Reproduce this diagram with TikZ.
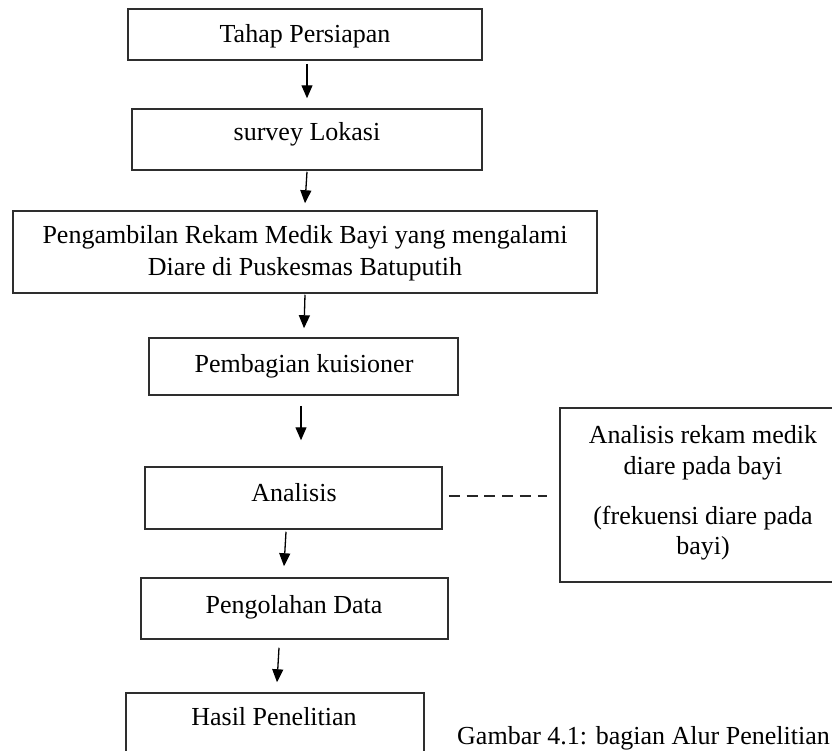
\documentclass[tikz,border=0pt]{standalone}
\usepackage{fontspec}
\setmainfont{Liberation Serif}
\usetikzlibrary{arrows.meta,calc}
\begin{document}
\begin{tikzpicture}[x=1pt,y=-1pt,
  box/.style={draw=black!82, line width=1.5pt, rectangle, inner sep=0pt},
  txt/.style={anchor=base, inner sep=0pt, font=\fontsize{26}{31}\selectfont},
  arr/.style={draw=black, line width=1.3pt, -{Triangle[width=11pt,length=13pt]}},
  dash line/.style={draw=black!85, line width=1.4pt, dash pattern=on 11pt off 6.8pt},
  ]
\useasboundingbox (0,0) rectangle (832,750);
\clip (0,0) rectangle (832,750);
\fill[white] (0,0) rectangle (832,750);

% boxes
\node[box, minimum width=354pt, minimum height=51pt] (b1) at (305,34.5) {};
\node[box, minimum width=350pt, minimum height=61pt] (b2) at (307,139.5) {};
\node[box, minimum width=584pt, minimum height=82pt] (b3) at (305,252) {};
\node[box, minimum width=309pt, minimum height=57pt] (b4) at (303.5,366.5) {};
\node[box, minimum width=297pt, minimum height=62pt] (b5) at (293.5,498) {};
\node[box, minimum width=307pt, minimum height=61pt] (b6) at (294.5,608.5) {};
\node[box, minimum width=298pt, minimum height=77pt] (b7) at (275,731.5) {};
\node[box, minimum width=286pt, minimum height=174pt] (br) at (703,495) {};

% texts
\node[txt] (t1) at (305,42) {Tahap Persiapan};
\node[txt] (t2) at (307,140) {survey Lokasi};
\node[txt] (t3a) at (305,243) {Pengambilan Rekam Medik Bayi yang mengalami};
\node[txt] (t3b) at (305,275) {Diare di Puskesmas Batuputih};
\node[txt] (t4) at (304,372) {Pembagian kuisioner};
\node[txt] (t5) at (294,501) {Analisis};
\node[txt] (t6) at (294,613) {Pengolahan Data};
\node[txt] (t7) at (274,725) {Hasil Penelitian};
\node[txt] (tr1) at (703,443) {Analisis rekam medik};
\node[txt] (tr2) at (703,474) {diare pada bayi};
\node[txt] (tr3) at (703,524) {(frekuensi diare pada};
\node[txt] (tr4) at (703,554) {bayi)};
\node[txt, anchor=base west] (cap) at (457,744) {Gambar 4.1: bagian Alur Penelitian};

% arrows
\draw[arr] ($(b1.south)+(2,3)$) -- ($(b2.north)+(0,-10)$);
\draw[arr] ($(b2.south)+(0,1)$) -- ($(b3.north)+(0,-7)$);
\draw[arr] ($(b3.south)+(0,1)$) -- ($(b4.north)+(0.5,-9)$);
\draw[arr] ($(b4.south)+(-2.5,10)$) -- ($(b5.north)+(7.5,-26)$);
\draw[arr] ($(b5.south)+(-7.5,2)$) -- ($(b6.north)+(-10.5,-11)$);
\draw[arr] ($(b6.south)+(-15.5,8)$) -- ($(b7.north)+(2,-10)$);

% dashed link
\draw[dash line] ($(b5.east)+(6,-2)$) -- ($(br.west)+(-12,1)$);
\end{tikzpicture}
\end{document}
